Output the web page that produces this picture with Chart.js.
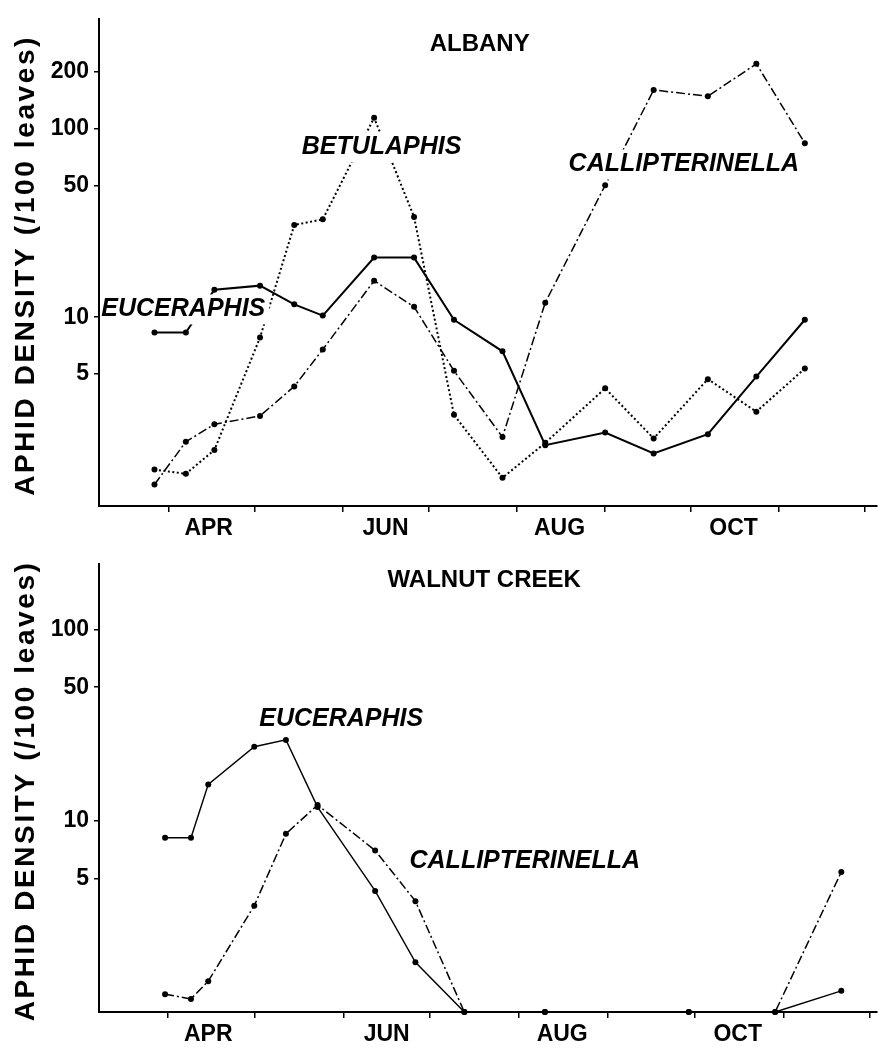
<!DOCTYPE html>
<html>
<head>
<meta charset="utf-8">
<title>Aphid density - Albany / Walnut Creek</title>
<script src="https://cdn.jsdelivr.net/npm/chart.js@4.4.1/dist/chart.umd.min.js"></script>
<style>
  html, body { margin: 0; padding: 0; background: #fff; }
  #wrap { position: relative; width: 881px; height: 1048px; }
  canvas { position: absolute; left: 0; }
  #albany { top: 0; }
  #walnut { top: 545px; }
</style>
</head>
<body>
<div id="wrap">
  <canvas id="albany" width="881" height="545"></canvas>
  <canvas id="walnut" width="881" height="503"></canvas>
</div>
<script>
// x values are day of year; month ticks sit on the 1st of each month
const MONTH_STARTS = [91, 121, 152, 182, 213, 244, 274, 305, 335];
const MONTH_NAMES = ['APR', 'JUN', 'AUG', 'OCT'];
const MONTH_MIDS = [105, 167, 228, 289];

const Y_TICKS_ALBANY = [5, 10, 50, 100, 200];
const Y_TICKS_WALNUT = [5, 10, 50, 100];

// Albany samples (aphids / 100 leaves)
const albanyDays = [86, 97, 107, 123, 135, 145, 163, 177, 191, 208, 223, 244, 261, 280, 297, 314];
const albanyEuceraphis = [8.3, 8.3, 14.0, 14.7, 11.7, 10.2, 20.7, 20.7, 9.7, 6.6, 2.1, 2.45, 1.9, 2.4, 4.85, 9.7];
const albanyBetulaphis = [1.56, 1.48, 1.98, 7.8, 30.8, 33, 114, 34, 3.04, 1.41, 2.16, 4.2, 2.28, 4.7, 3.16, 5.35];
const albanyCallipterinella = [1.3, 2.19, 2.71, 3.0, 4.3, 6.75, 15.6, 11.35, 5.2, 2.32, 11.95, 50, 160, 148, 220, 83.5];

// Walnut Creek samples, 0 = none found (drawn on the baseline)
const walnutDays = [90, 99, 105, 121, 132, 143, 163, 177, 194, 222, 272, 302, 325];
const walnutEuceraphis = [8.15, 8.15, 15.5, 24.4, 26.5, 11.8, 4.3, 1.82, 0, 0, 0, 0, 1.29];
const walnutCallipterinella = [1.24, 1.17, 1.45, 3.6, 8.55, 12.1, 7.0, 3.8, 0, 0, 0, 0, 5.4];

const FLOOR = 1;
const FONT = '"Liberation Sans", Arial, Helvetica, sans-serif';
const Y_TITLE = 'APHID DENSITY (/100 leaves)';

Chart.defaults.font.family = FONT;
Chart.defaults.font.weight = 'bold';
Chart.defaults.color = '#000';

const lineStyles = {
  euceraphis: { borderDash: [], borderWidth: 2 },
  betulaphis: { borderDash: [2, 2.5], borderWidth: 2 },
  callipterinella: { borderDash: [9, 3, 2, 3], borderWidth: 1.5 },
};

function series(days, values, style) {
  return {
    data: days.map((d, i) => ({ x: d, y: Math.max(values[i], FLOOR) })),
    borderColor: '#000',
    backgroundColor: '#000',
    pointRadius: 3,
    pointBorderWidth: 0,
    pointBackgroundColor: '#000',
    tension: 0,
    clip: false,
    ...style,
  };
}

function xAxis(min, max, height) {
  return {
    type: 'linear',
    min,
    max,
    afterBuildTicks(scale) {
      scale.ticks = MONTH_STARTS.concat(MONTH_MIDS)
        .sort((a, b) => a - b)
        .map(v => ({ value: v }));
    },
    afterFit(scale) { scale.height = height; },
    ticks: {
      autoSkip: false,
      maxRotation: 0,
      padding: 3,
      font: { size: 23, weight: 'bold' },
      callback(value) {
        const i = MONTH_MIDS.indexOf(value);
        return i >= 0 ? MONTH_NAMES[i] : '';
      },
    },
    grid: {
      drawOnChartArea: false,
      tickLength: 6,
      lineWidth: 1.5,
      color: ctx => (ctx.tick && MONTH_STARTS.includes(ctx.tick.value)) ? '#000' : 'rgba(0,0,0,0)',
    },
    border: { color: '#000', width: 2 },
  };
}

function yAxis(max, ticks) {
  return {
    type: 'logarithmic',
    min: FLOOR,
    max,
    afterBuildTicks(scale) { scale.ticks = ticks.map(v => ({ value: v })); },
    afterFit(scale) { scale.width = 99; },
    ticks: {
      padding: 5,
      font: { size: 23, weight: 'bold' },
      callback: v => String(v),
    },
    grid: { drawOnChartArea: false, tickLength: 5, lineWidth: 1.5, color: '#000' },
    border: { color: '#000', width: 2 },
  };
}

// in-plot names (white box knocks the lines out behind them) + rotated y title
const panelText = {
  id: 'panelText',
  afterDatasetsDraw(chart, args, opts) {
    const { ctx, chartArea, scales: { x, y } } = chart;
    ctx.save();
    ctx.textAlign = 'center';
    ctx.textBaseline = 'middle';
    opts.items.forEach(item => {
      ctx.font = (item.italic ? 'italic bold 25px ' : 'bold 24px ') + FONT;
      const w = ctx.measureText(item.text).width;
      const px = x.getPixelForValue(item.day);
      const py = y.getPixelForValue(item.value);
      const left = Math.max(px - w / 2 - 4, chartArea.left + 1.5);
      ctx.fillStyle = '#fff';
      ctx.fillRect(left, py - 15, px + w / 2 + 4 - left, 30);
      ctx.fillStyle = '#000';
      ctx.fillText(item.text, px, py);
    });
    ctx.restore();
  },
  afterDraw(chart) {
    const { ctx, chartArea } = chart;
    ctx.save();
    ctx.translate(26, (chartArea.top + chartArea.bottom) / 2 + 3);
    ctx.rotate(-Math.PI / 2);
    ctx.font = 'bold 28px ' + FONT;
    ctx.letterSpacing = '2.6px';
    ctx.textAlign = 'center';
    ctx.textBaseline = 'middle';
    ctx.fillStyle = '#000';
    ctx.fillText(Y_TITLE, 0, 0);
    ctx.restore();
  },
};

new Chart(document.getElementById('albany'), {
  type: 'line',
  data: {
    datasets: [
      series(albanyDays, albanyEuceraphis, lineStyles.euceraphis),
      series(albanyDays, albanyBetulaphis, lineStyles.betulaphis),
      series(albanyDays, albanyCallipterinella, lineStyles.callipterinella),
    ],
  },
  options: {
    responsive: false,
    animation: false,
    layout: { padding: { top: 10, right: 1, left: 0, bottom: 0 } },
    plugins: {
      legend: { display: false },
      tooltip: { enabled: false },
      panelText: {
        items: [
          { text: 'ALBANY', day: 200, value: 278 },
          { text: 'BETULAPHIS', day: 165.6, value: 79.4, italic: true },
          { text: 'CALLIPTERINELLA', day: 271.6, value: 64.4, italic: true },
          { text: 'EUCERAPHIS', day: 96.1, value: 11.0, italic: true },
        ],
      },
    },
    scales: {
      x: xAxis(66.55, 339.3, 39),
      y: yAxis(381, Y_TICKS_ALBANY),
    },
  },
  plugins: [panelText],
});

new Chart(document.getElementById('walnut'), {
  type: 'line',
  data: {
    datasets: [
      series(walnutDays, walnutEuceraphis, { borderDash: [], borderWidth: 1.4 }),
      series(walnutDays, walnutCallipterinella, lineStyles.callipterinella),
    ],
  },
  options: {
    responsive: false,
    animation: false,
    layout: { padding: { top: 16, right: 0, left: 0, bottom: 0 } },
    plugins: {
      legend: { display: false },
      tooltip: { enabled: false },
      panelText: {
        items: [
          { text: 'WALNUT CREEK', day: 200.9, value: 181.6 },
          { text: 'EUCERAPHIS', day: 151.2, value: 34.2, italic: true },
          { text: 'CALLIPTERINELLA', day: 215, value: 6.17, italic: true },
        ],
      },
    },
    scales: {
      x: xAxis(67.04, 337.4, 36),
      y: yAxis(221, Y_TICKS_WALNUT),
    },
  },
  plugins: [panelText],
});
</script>
</body>
</html>
